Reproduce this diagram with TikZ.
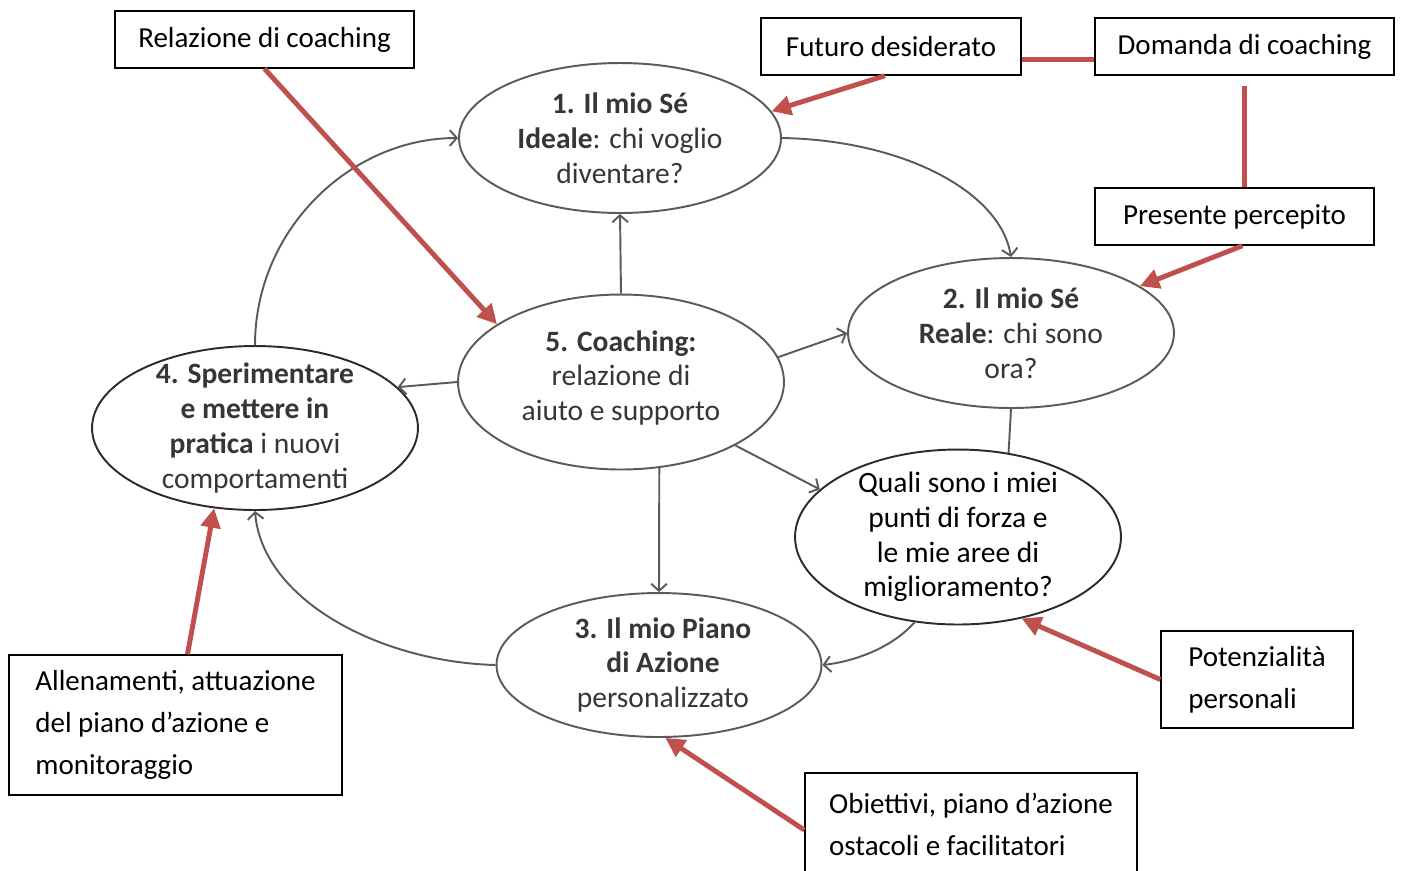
\documentclass[tikz,border=0pt]{standalone}
\usepackage{fontspec}
\setmainfont{Carlito}
\usetikzlibrary{arrows.meta,calc,shapes.geometric}
\definecolor{ring}{HTML}{5A5A5A}
\definecolor{dark}{HTML}{2B2B2B}
\definecolor{tipred}{HTML}{C0504D}
\definecolor{words}{HTML}{363636}

\begin{document}
\begin{tikzpicture}[x=0.02cm,y=-0.02cm,
  bubble/.style={ellipse,draw=ring,line width=1.1pt,inner sep=0pt,fill=white},
  say/.style={align=center,text=words,inner sep=0pt,font=\fontsize{16.8}{19.8}\selectfont},
  tag/.style={draw=black,line width=0.8pt,inner sep=0pt,minimum height=1.14cm,font=\fontsize{16.5}{23.8}\selectfont},
  note/.style={tag,align=left},
  flow/.style={-{Straight Barb[length=4pt,width=9pt]},ring,line width=1.1pt},
  hint/.style={-{Triangle[length=11pt,width=11pt]},draw=tipred,line width=2.8pt},
  tie/.style={draw=tipred,line width=2.8pt}]
\useasboundingbox (0,0) rectangle (1402,870);
% the cycle
\node[bubble,minimum width=6.44cm,minimum height=3cm] (e1) at (620,138) {};
\node[say] (t1) at (e1.center) {\textbf{1. Il mio Sé}\\\textbf{Ideale}: chi voglio\\diventare?};
\node[bubble,minimum width=6.52cm,minimum height=3cm] (e2) at (1011,333) {};
\node[say] (t2) at (e2.center) {\textbf{2. Il mio Sé}\\\textbf{Reale}: chi sono\\ora?};
\node[bubble,minimum width=6.52cm,minimum height=3.5cm] (e5) at (621,382) {};
\node[say] (t5) at ($(e5.center)+(0,-4)$) {\textbf{5. Coaching:}\\relazione di\\aiuto e supporto};
\node[bubble,draw=dark,minimum width=6.52cm,minimum height=3.28cm] (e4) at (255,428) {};
\node[say] (t4) at (e4.center) {\textbf{4. Sperimentare}\\\textbf{e mettere in}\\\textbf{pratica} i nuovi\\comportamenti};
\node[bubble,draw=dark,minimum width=6.52cm,minimum height=3.5cm] (eq) at (958,537) {};
\node[say,text=black] (tq) at (eq.center) {Quali sono i miei\\punti di forza e\\le mie aree di\\miglioramento?};
\node[bubble,minimum width=6.5cm,minimum height=2.88cm] (e3) at (659,665) {};
\node[say] (t3) at ($(e3.center)+(4,0)$) {\textbf{3. Il mio Piano}\\\textbf{di Azione}\\personalizzato};
% grey links
\draw[flow] (e1.east) .. controls (900,140) and (1000,190) .. (e2.north);
\draw[flow] (e5.north) -- (e1.south);
\draw[flow] (e5.9) -- (e2.west);
\draw[flow] (e5.west) -- (e4.16);
\draw[flow] (e5.-29) -- (eq.161);
\draw[flow] (e5.-66) -- (e3.north);
\draw[ring,line width=1.1pt] (e2.south) -- (eq.59);
\draw[flow] (eq.-117) .. controls (890,650) and (850,662) .. (e3.east);
\draw[flow] (e3.west) .. controls (380,662) and (262,600) .. (e4.south);
\draw[flow] (e4.north) .. controls (255,230) and (350,138) .. (e1.west);
% boxes
\node[tag,minimum width=5.98cm] (rel) at (264.5,39.5) {Relazione di coaching};
\node[tag,minimum width=5.2cm] (fut) at (891,46.5) {Futuro desiderato};
\node[tag,minimum width=5.98cm] (dom) at (1244.5,46.5) {Domanda di coaching};
\node[tag,minimum width=5.58cm] (pres) at (1234.5,216.5) {Presente percepito};
\node[note,minimum width=3.84cm,minimum height=1.94cm] (pot) at (1257,679.5) {Potenzialità\\personali};
\node[note,minimum width=6.64cm,minimum height=2.04cm] (obi) at (971,824) {Obiettivi, piano d’azione\\ostacoli e facilitatori};
\node[note,minimum width=6.66cm,minimum height=2.8cm] (all) at (175.5,725) {Allenamenti, attuazione\\del piano d’azione e\\monitoraggio};
% red pointers
\draw[hint] (rel.south) -- (e5.155);
\draw[hint] ($(fut.south)+(-6,0)$) -- (e1.10);
\draw[tie] ($(fut.east)+(0,13)$) -- ($(dom.west)+(0,13)$);
\draw[tie] ($(dom.south)+(0,10)$) -- (pres.north -| dom.south);
\draw[hint] ($(pres.south)+(8,0)$) -- (e2.20);
\draw[hint] (pot.west) -- (eq.-52);
\draw[hint] ($(obi.west)+(0,6)$) -- (e3.-85);
\draw[hint] ($(all.north)+(12,0)$) -- (e4.-117);
\end{tikzpicture}
\end{document}
